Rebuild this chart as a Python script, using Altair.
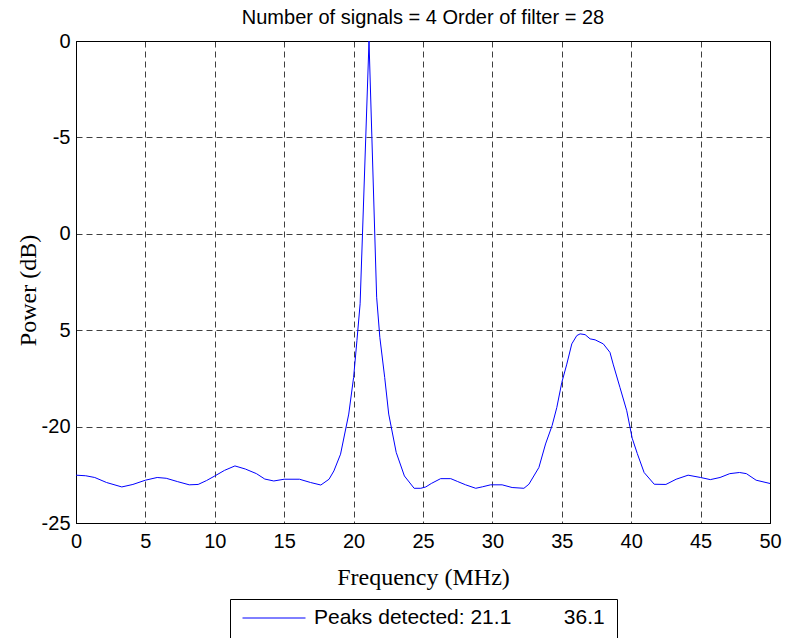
import altair as alt
import pandas as pd

# ---- data ----
freq = [0.0, 0.7, 1.35, 2.2, 3.3, 4.1, 5.0, 5.85, 6.5, 7.3,
        8.16, 8.8, 9.4, 10.0, 10.7, 11.45, 12.2, 13.0, 13.6, 14.25,
        15.0, 16.1, 16.9, 17.64, 18.23, 18.58, 19.06, 19.65, 20.0, 20.24,
        20.47, 21.11, 21.66, 21.89, 22.24, 22.53, 23.07, 23.66, 24.36, 24.84,
        25.2, 25.6, 26.27, 27.0, 27.5, 28.07, 28.8, 29.3, 29.87, 30.7,
        31.42, 32.27, 32.63, 33.35, 33.83, 34.3, 34.64, 35.0, 35.36, 35.72,
        36.08, 36.32, 36.68, 37.04, 37.4, 37.99, 38.47, 38.7, 39.19, 39.68,
        40.07, 40.44, 40.93, 41.66, 42.5, 43.24, 44.1, 45.0, 45.7, 46.4,
        47.1, 47.8, 48.3, 49.0, 50.0]
power = [-22.52, -22.55, -22.64, -22.9, -23.13, -23.0, -22.78, -22.64, -22.68, -22.85,
         -23.02, -23.0, -22.8, -22.56, -22.27, -22.04, -22.2, -22.44, -22.72, -22.82,
         -22.73, -22.73, -22.9, -23.03, -22.73, -22.3, -21.43, -19.35, -17.45, -15.54,
         -13.63, 0.0, -13.29, -15.37, -17.45, -19.35, -21.34, -22.56, -23.2, -23.2,
         -23.13, -22.95, -22.7, -22.7, -22.85, -23.02, -23.2, -23.12, -23.02, -23.02,
         -23.16, -23.2, -22.99, -22.12, -20.9, -19.95, -19.01, -17.71, -16.76, -15.71,
         -15.28, -15.19, -15.23, -15.45, -15.5, -15.71, -16.15, -16.76, -17.97, -19.18,
         -20.6, -21.4, -22.38, -22.99, -23.0, -22.73, -22.52, -22.64, -22.75, -22.64,
         -22.44, -22.38, -22.44, -22.78, -22.95]

x_ticks = [0, 5, 10, 15, 20, 25, 30, 35, 40, 45, 50]
y_ticks = [0, -5, -10, -15, -20, -25]
y_tick_labels = ["0", "-5", "0", "5", "-20", "-25"]

title_text = "Number of signals = 4 Order of filter = 28"
x_title = "Frequency (MHz)"
y_title = "Power (dB)"
series_label = "Peaks detected: 21.1" + "\u00a0" * 9 + "36.1"

assert len(freq) == len(power)

df = pd.DataFrame({"freq": freq, "power": power, "series": [series_label] * len(freq)})

label_expr = "datum.label"
for v, lab in reversed(list(zip(y_ticks, y_tick_labels))):
    label_expr = f"datum.value == {v} ? '{lab}' : ({label_expr})"

SANS = "Liberation Sans"
SERIF = "Liberation Serif"

chart = alt.Chart(df).mark_line(strokeWidth=1).encode(
    x=alt.X(
        "freq:Q",
        scale=alt.Scale(domain=[0, 50], nice=False, zero=False),
        axis=alt.Axis(
            values=x_ticks, title=x_title, labelPadding=8, labelFlush=False,
            labelOverlap=False, titleX=347, titleY=61, titleAlign="center",
            titleBaseline="alphabetic",
        ),
    ),
    y=alt.Y(
        "power:Q",
        scale=alt.Scale(domain=[-25, 0], nice=False, zero=False),
        axis=alt.Axis(
            values=y_ticks, labelExpr=label_expr, title=y_title, labelPadding=6,
            labelFlush=False, labelOverlap=False, titleX=-41, titleY=249,
            titleAngle=270, titleAlign="center", titleBaseline="alphabetic",
        ),
    ),
    color=alt.Color(
        "series:N",
        scale=alt.Scale(domain=[series_label], range=["#0000ff"]),
        legend=alt.Legend(
            title=None, orient="none", legendX=154, legendY=558,
            symbolType="stroke", symbolSize=3969, symbolStrokeWidth=1,
            clipHeight=14, labelOffset=8, padding=12,
            labelFont=SANS, labelFontSize=21, labelColor="black", labelLimit=1000,
            strokeColor="black", fillColor="white",
        ),
    ),
).properties(
    width=694,
    height=482,
    title=alt.TitleParams(
        text=title_text, font=SANS, fontSize=20, fontWeight="normal", color="black",
        anchor="middle", baseline="alphabetic", offset=17, dy=30,
    ),
    padding={"left": 76, "top": 41, "right": 15, "bottom": 115},
    autosize=alt.AutoSizeParams(type="none"),
).configure_view(
    stroke="black", strokeWidth=1
).configure_axis(
    domain=True, domainColor="black", domainWidth=1,
    grid=True, gridColor="#000000", gridDash=[6, 4], gridWidth=1, gridOpacity=0.75,
    ticks=False,
    labelFont=SANS, labelFontSize=20, labelColor="black",
    titleFont=SERIF, titleFontSize=24, titleFontWeight="normal", titleColor="black",
)

chart.save("out.html", embed_options={"renderer": "svg", "actions": False})
